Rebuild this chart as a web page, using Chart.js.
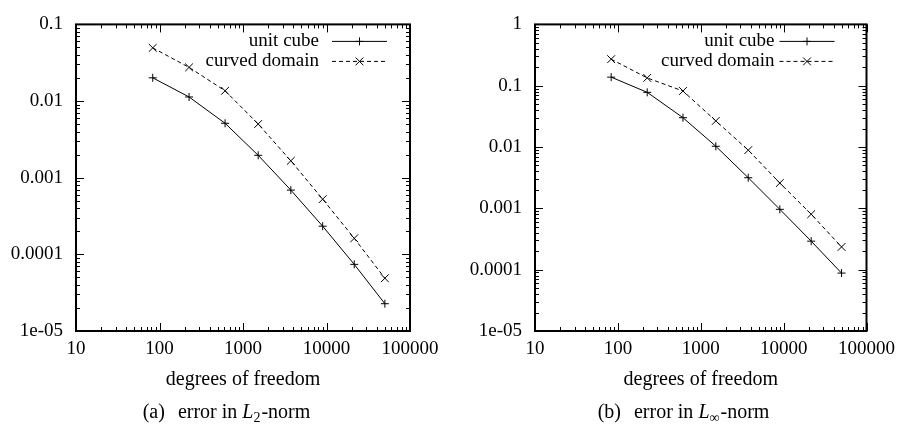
<!DOCTYPE html>
<html>
<head>
<meta charset="utf-8">
<script src="https://cdn.jsdelivr.net/npm/chart.js@4.4.1/dist/chart.umd.min.js"></script>
<style>
body { margin: 0; background: #fff; width: 902px; height: 426px; position: relative; overflow: hidden; font-family: "Liberation Serif", serif; color: #000; }
.panel { position: absolute; top: 0; width: 451px; height: 426px; }
.cap { position: absolute; top: 400px; width: 451px; text-align: center; font-family: "Liberation Serif", serif; font-size: 20px; line-height: 22px; white-space: pre; }
.cap .gap { display: inline-block; width: 13px; }
.cap sub { font-size: 14px; line-height: 0; vertical-align: -4px; margin-right: 1px; }
</style>
</head>
<body>
<div class="panel" style="left:0"><canvas id="c1" width="451" height="426"></canvas></div>
<div class="panel" style="left:451px"><canvas id="c2" width="451" height="426"></canvas></div>
<div class="cap" style="left:1px">(a)<span class="gap"></span>error in <i>L</i><sub>2</sub>-norm</div>
<div class="cap" style="left:458px">(b)<span class="gap"></span>error in <i>L</i><sub>∞</sub>-norm</div>
<script>
// degrees of freedom (x) and errors
const dof = [83, 226, 610, 1520, 3740, 9000, 21500, 50000];
const l2UnitCube = [0.0201, 0.0113, 0.00513, 0.00196, 0.000689, 0.000233, 0.000074, 0.0000227];
const l2Curved = [0.0494, 0.0275, 0.0136, 0.00502, 0.00166, 0.000525, 0.000162, 0.0000488];
const linfUnitCube = [0.138, 0.078, 0.0301, 0.0103, 0.00316, 0.000964, 0.000292, 0.000088];
const linfCurved = [0.271, 0.134, 0.082, 0.0267, 0.0089, 0.00259, 0.000803, 0.000235];
const seriesNames = ['unit cube', 'curved domain'];

const xTicks = [10, 100, 1000, 10000, 100000];
const xTickLabels = ['10', '100', '1000', '10000', '100000'];
const yTicksL2 = [1e-5, 1e-4, 1e-3, 1e-2, 1e-1];
const yTickLabelsL2 = ['1e-05', '0.0001', '0.001', '0.01', '0.1'];
const yTicksLinf = [1e-5, 1e-4, 1e-3, 1e-2, 1e-1, 1];
const yTickLabelsLinf = ['1e-05', '0.0001', '0.001', '0.01', '0.1', '1'];

const tickFont = { family: 'Liberation Serif', size: 19 };
const titleFont = { family: 'Liberation Serif', size: 20 };

// box round the plot with gnuplot style inward ticks on all four sides
const framePlugin = {
    id: 'frame',
    afterDraw(chart) {
        let ctx = chart.ctx;
        let a = chart.chartArea;
        let x = chart.scales.x, y = chart.scales.y;
        ctx.save();
        ctx.strokeStyle = '#000';
        ctx.lineWidth = 1;
        ctx.beginPath();
        for (let d = Math.round(Math.log10(x.min)); d <= Math.round(Math.log10(x.max)); d++) {
            for (let k = 1; k <= 9; k++) {
                let v = k * Math.pow(10, d);
                if (v > x.max * 1.0001) break;
                let p = Math.round(x.getPixelForValue(v)) + 0.5;
                let len = k === 1 ? 8 : 4;
                ctx.moveTo(p, a.bottom); ctx.lineTo(p, a.bottom - len);
                ctx.moveTo(p, a.top); ctx.lineTo(p, a.top + len);
            }
        }
        for (let d = Math.round(Math.log10(y.min)); d <= Math.round(Math.log10(y.max)); d++) {
            for (let k = 1; k <= 9; k++) {
                let v = k * Math.pow(10, d);
                if (v > y.max * 1.0001) break;
                let p = Math.round(y.getPixelForValue(v)) + 0.5;
                let len = k === 1 ? 8 : 4;
                ctx.moveTo(a.left, p); ctx.lineTo(a.left + len, p);
                ctx.moveTo(a.right, p); ctx.lineTo(a.right - len, p);
            }
        }
        ctx.stroke();
        ctx.lineWidth = 2;
        ctx.strokeRect(a.left, a.top, a.right - a.left, a.bottom - a.top);
        ctx.restore();
    }
};

// key in the top right corner: text first, then the line sample
const keyPlugin = {
    id: 'key',
    afterDraw(chart, args, opts) {
        let ctx = chart.ctx;
        let a = chart.chartArea;
        ctx.save();
        chart.data.datasets.forEach((ds, i) => {
            let yy = a.top + opts.rows[i];
            ctx.font = '19px "Liberation Serif"';
            ctx.fillStyle = '#000';
            ctx.textAlign = 'right';
            ctx.textBaseline = 'middle';
            ctx.fillText(ds.label, a.right - opts.textRight, yy);
            ctx.strokeStyle = ds.borderColor;
            ctx.lineWidth = ds.borderWidth;
            ctx.setLineDash(ds.borderDash || []);
            ctx.beginPath();
            ctx.moveTo(a.right - opts.lineStart, yy);
            ctx.lineTo(a.right - opts.lineEnd, yy);
            ctx.stroke();
            ctx.setLineDash([]);
            Chart.helpers.drawPoint(ctx, {
                pointStyle: ds.pointStyle, radius: ds.pointRadius, rotation: 0, borderWidth: 1
            }, a.right - (opts.lineStart + opts.lineEnd) / 2, yy);
        });
        ctx.restore();
    }
};

function makeData(xs, ys) {
    let out = [];
    for (let i = 0; i < xs.length; i++) {
        out.push({x: xs[i], y: ys[i]});
    }
    return out;
}

function drawChart(id, unitCube, curved, yTicks, yLabels, yWidth, padRight, key) {
    let ctx = document.getElementById(id).getContext('2d');
    let config = {
        type: 'line',
        data: {
            datasets: [{
                label: seriesNames[0],
                data: makeData(dof, unitCube),
                borderColor: '#000',
                borderWidth: 1,
                pointStyle: 'cross',
                pointRadius: 4,
                pointBorderWidth: 1,
                pointBorderColor: '#000',
                pointBackgroundColor: 'transparent',
                tension: 0
            }, {
                label: seriesNames[1],
                data: makeData(dof, curved),
                borderColor: '#000',
                borderWidth: 1,
                borderDash: [4, 3],
                pointStyle: 'crossRot',
                pointRadius: 5.5,
                pointBorderWidth: 1,
                pointBorderColor: '#000',
                pointBackgroundColor: 'transparent',
                tension: 0
            }]
        },
        options: {
            responsive: false,
            animation: false,
            events: [],
            layout: { padding: { left: 0, top: 17, right: padRight, bottom: 34 } },
            plugins: {
                legend: { display: false },
                tooltip: { enabled: false },
                key: key
            },
            scales: {
                x: {
                    type: 'logarithmic',
                    min: xTicks[0],
                    max: xTicks[xTicks.length - 1],
                    afterBuildTicks: s => { s.ticks = xTicks.map(v => ({value: v})); },
                    afterFit: s => { s.height = 61; },
                    grid: { display: false, drawTicks: false },
                    border: { display: false },
                    ticks: {
                        autoSkip: false,
                        maxRotation: 0,
                        padding: 7,
                        color: '#000',
                        font: tickFont,
                        callback: (v, i) => xTickLabels[i]
                    },
                    title: {
                        display: true,
                        text: 'degrees of freedom',
                        padding: 0,
                        color: '#000',
                        font: titleFont
                    }
                },
                y: {
                    type: 'logarithmic',
                    min: yTicks[0],
                    max: yTicks[yTicks.length - 1],
                    afterBuildTicks: s => { s.ticks = yTicks.map(v => ({value: v})); },
                    afterFit: s => { s.width = yWidth; },
                    grid: { display: false, drawTicks: false },
                    border: { display: false },
                    ticks: {
                        autoSkip: false,
                        padding: 13,
                        color: '#000',
                        font: tickFont,
                        callback: (v, i) => yLabels[i]
                    }
                }
            }
        },
        plugins: [framePlugin, keyPlugin]
    };
    return new Chart(ctx, config);
}

drawChart('c1', l2UnitCube, l2Curved, yTicksL2, yTickLabelsL2, 76, 41,
    { rows: [17, 37], textRight: 91, lineStart: 78, lineEnd: 23 });
drawChart('c2', linfUnitCube, linfCurved, yTicksLinf, yTickLabelsLinf, 84, 32,
    { rows: [17, 37], textRight: 92, lineStart: 87, lineEnd: 32 });
</script>
</body>
</html>
